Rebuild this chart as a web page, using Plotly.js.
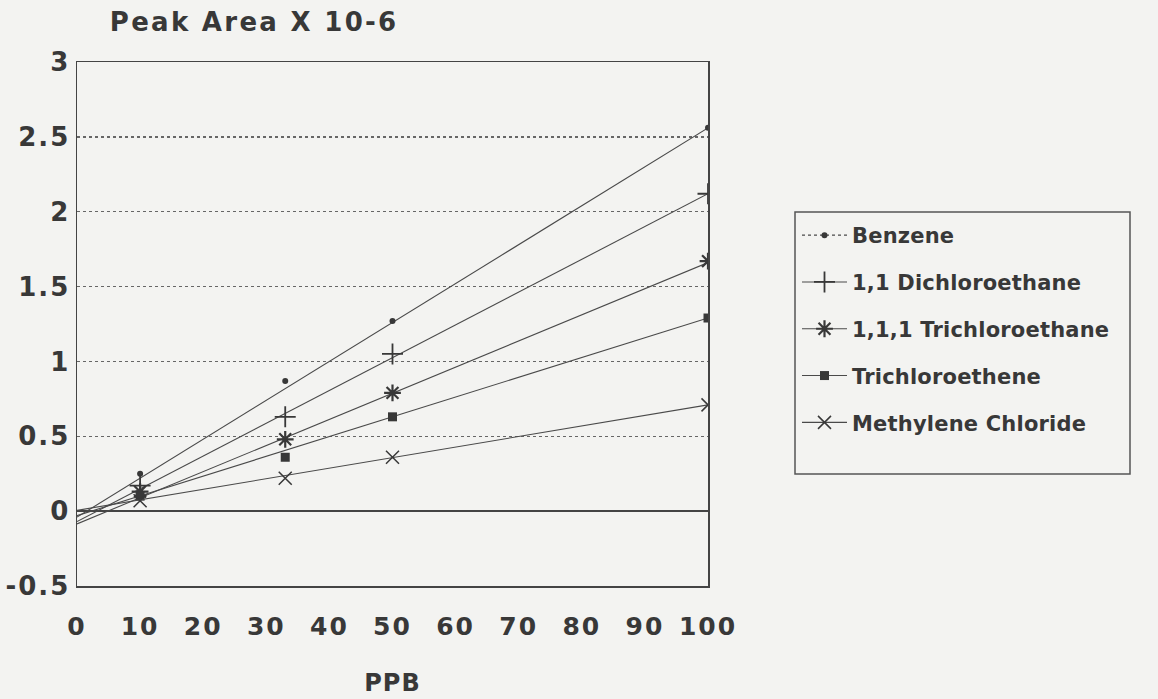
<!DOCTYPE html>
<html>
<head>
<meta charset="utf-8">
<script src="https://cdn.plot.ly/plotly-3.0.1.min.js"></script>
<style>
  html, body { margin: 0; padding: 0; background: #f3f3f1; }
  #chart { width: 1158px; height: 699px; }
  svg text { font-weight: 700 !important; }
  .xtick text, .ytick text { letter-spacing: 2px; }
  .gtitle { letter-spacing: 2.3px; }
  .xtitle { letter-spacing: 1px; }
  .legendtext { letter-spacing: 0.2px; }
</style>
</head>
<body>
<div id="chart"></div>
<script>
// ---- data ----
const ppb = [10, 33, 50, 100];
const benzene = [0.25, 0.87, 1.27, 2.56];
const dichloroethane = [0.17, 0.63, 1.05, 2.12];
const trichloroethane = [0.13, 0.48, 0.79, 1.67];
const trichloroethene = [0.10, 0.36, 0.63, 1.29];
const methyleneChloride = [0.07, 0.22, 0.36, 0.71];

// fitted straight lines, read at x = 0 and x = 100
const fitX = [0, 100];
const benzeneFit = [-0.04, 2.56];
const dichloroethaneFit = [-0.07, 2.12];
const trichloroethaneFit = [-0.085, 1.66];
const trichloroetheneFit = [-0.03, 1.29];
const methyleneChlorideFit = [0.005, 0.71];

const seriesNames = ['Benzene', '1,1 Dichloroethane', '1,1,1 Trichloroethane', 'Trichloroethene', 'Methylene Chloride'];
const yTickVals = [-0.5, 0, 0.5, 1, 1.5, 2, 2.5, 3];
const yTickText = ['-0.5', '0', '0.5', '1', '1.5', '2', '2.5', '3'];
const xTickVals = [0, 10, 20, 30, 40, 50, 60, 70, 80, 90, 100];
const xTickText = ['0', '10', '20', '30', '40', '50', '60', '70', '80', '90', '100'];

// ---- styles ----
const ink = '#383838';
const lineCol = '#4a4a4a';
const markers = [
  {symbol: 'circle', size: 6, color: ink, line: {width: 0}},
  {symbol: 'cross-thin-open', size: 15, color: ink, line: {width: 1.8, color: ink}},
  {symbol: 'asterisk-open', size: 14, color: ink, line: {width: 2.2, color: ink}},
  {symbol: 'square', size: 9, color: ink, line: {width: 0}},
  {symbol: 'x-thin-open', size: 13, color: ink, line: {width: 1.5, color: ink}}
];
const pointSets = [benzene, dichloroethane, trichloroethane, trichloroethene, methyleneChloride];
const fitSets = [benzeneFit, dichloroethaneFit, trichloroethaneFit, trichloroetheneFit, methyleneChlorideFit];

const traces = [];
for (let i = 0; i < seriesNames.length; i++) {
  traces.push({
    x: fitX, y: fitSets[i], mode: 'lines', type: 'scatter',
    line: {color: lineCol, width: 1.1}, showlegend: false, hoverinfo: 'skip'
  });
  traces.push({
    x: ppb, y: pointSets[i], mode: 'markers', type: 'scatter',
    marker: markers[i], showlegend: false, name: seriesNames[i]
  });
}
// legend entries (line + marker, no data points)
for (let i = 0; i < seriesNames.length; i++) {
  traces.push({
    x: [null], y: [null], mode: 'lines+markers', type: 'scatter',
    name: seriesNames[i], legendgroup: 'g' + i,
    line: {color: lineCol, width: 1.1, dash: i === 0 ? 'dot' : 'solid'},
    marker: markers[i]
  });
}

const fontFam = 'DejaVu Sans, Verdana, sans-serif';
const px = v => (v - 77) / 631;   // pixel -> paper x
const py = v => (586 - v) / 524;  // pixel -> paper y
const layout = {
  width: 1158, height: 699,
  margin: {l: 77, r: 450, t: 62, b: 113},
  paper_bgcolor: '#f3f3f1', plot_bgcolor: '#f3f3f1',
  font: {family: fontFam, color: ink, weight: 700},
  title: {
    text: 'Peak Area X 10-6',
    font: {family: fontFam, size: 26, color: ink, weight: 700},
    xref: 'paper', x: 0.052, xanchor: 'left',
    yref: 'container', y: 1 - 22 / 699, yanchor: 'middle'
  },
  xaxis: {
    range: [0, 100], tickvals: xTickVals, ticktext: xTickText,
    showgrid: false, zeroline: false,
    showline: true, mirror: true, linecolor: '#444', linewidth: 1.5,
    ticks: '', ticklabelstandoff: 17,
    tickfont: {family: fontFam, size: 25, color: ink, weight: 700},
    title: {text: 'PPB', standoff: 34, font: {family: fontFam, size: 24, color: ink, weight: 700}}
  },
  yaxis: {
    range: [-0.5, 3], tickvals: yTickVals, ticktext: yTickText,
    showgrid: true, gridcolor: '#666', griddash: 'dot', gridwidth: 1.4,
    zeroline: true, zerolinecolor: '#444', zerolinewidth: 1.4,
    showline: true, mirror: true, linecolor: '#444', linewidth: 1.5,
    ticks: '', ticklabelstandoff: 0,
    tickfont: {family: fontFam, size: 26, color: ink, weight: 700}
  },
  legend: {
    x: px(797), xanchor: 'left',
    y: py(215), yanchor: 'top',
    borderwidth: 0, bgcolor: 'rgba(0,0,0,0)',
    font: {family: fontFam, size: 21, color: ink, weight: 700},
    traceorder: 'grouped', tracegroupgap: 16.5, itemwidth: 45
  },
  shapes: [{
    type: 'rect', xref: 'paper', yref: 'paper',
    x0: px(795), x1: px(1130), y0: py(474), y1: py(212),
    line: {color: '#555', width: 1.5}, fillcolor: 'rgba(0,0,0,0)'
  }],
  showlegend: true
};

Plotly.newPlot('chart', traces, layout, {displayModeBar: false, staticPlot: true});
</script>
</body>
</html>
